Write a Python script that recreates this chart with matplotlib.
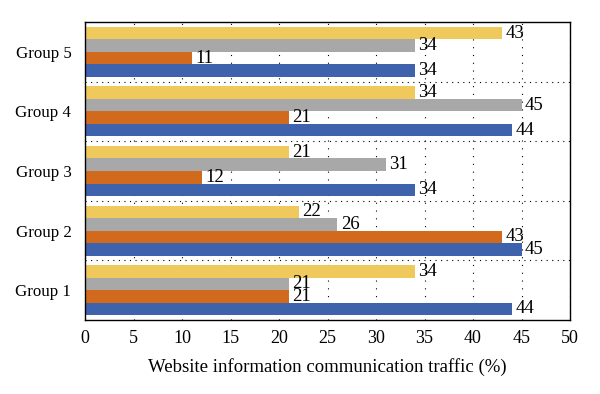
import matplotlib
matplotlib.use('Agg')
import matplotlib.pyplot as plt
import numpy as np

groups = ['Group 1', 'Group 2', 'Group 3', 'Group 4', 'Group 5']
# series drawn bottom to top inside each group
blue = [44, 45, 34, 44, 34]
orange = [21, 43, 12, 21, 11]
gray = [21, 26, 31, 45, 34]
yellow = [34, 22, 21, 34, 43]

series = [blue, orange, gray, yellow]
colors = ['#3F62AD', '#D26A1E', '#A8A8A8', '#EFC95C']

plt.rcParams['font.family'] = ['Liberation Serif', 'DejaVu Serif']

fig = plt.figure(figsize=(6, 3.94), dpi=100)
ax = fig.add_axes([0.142, 0.188, 0.808, 0.756])

y = np.arange(1, len(groups) + 1)
h = 0.21
offsets = [-1.5 * h, -0.5 * h, 0.5 * h, 1.5 * h]

for vals, col, off in zip(series, colors, offsets):
    bars = ax.barh(y + off, vals, height=h, color=col, zorder=2)
    for b, v in zip(bars, vals):
        ax.text(v + 0.35, b.get_y() + h / 2, str(v), va='center', ha='left',
                fontsize=13.5, zorder=3)

ax.set_xlim(0, 50)
ax.set_ylim(0.5, 5.5)
ax.set_xticks(np.arange(0, 51, 5))
ax.set_yticks(y)
ax.set_yticklabels(groups, fontsize=12.2)
ax.set_yticks(np.arange(1.5, 5.5, 1), minor=True)
ax.tick_params(axis='x', labelsize=13, direction='in', length=0, pad=7)
ax.tick_params(axis='y', which='both', length=0, pad=10)

ax.grid(axis='x', which='major', linestyle=(0, (1, 6)), color='black', linewidth=0.8, zorder=0)
ax.grid(axis='y', which='minor', linestyle=(0, (1, 4)), color='black', linewidth=0.8, zorder=0)

for s in ax.spines.values():
    s.set_linewidth(1.0)

ax.set_xlabel('Website information communication traffic (%)', fontsize=13.5, labelpad=8)

fig.savefig('out.png', dpi=100)
